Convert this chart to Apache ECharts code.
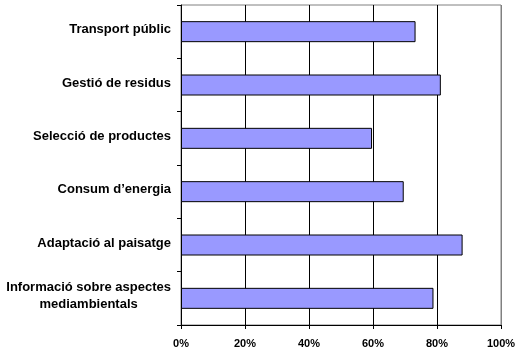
<!DOCTYPE html>
<html>
<head>
<meta charset="utf-8">
<script src="https://cdn.jsdelivr.net/npm/echarts@6/dist/echarts.min.js"></script>
<style>
html,body{margin:0;padding:0;background:#fff;}
#chart{width:530px;height:360px;}
</style>
</head>
<body>
<div id="chart"></div>
<script>
const categories = [
  'Transport públic',
  'Gestió de residus',
  'Selecció de productes',
  'Consum d\u2019energia',
  'Adaptació al paisatge',
  'Informació sobre aspectes\nmediambientals'
];
const values = [73.3, 81.2, 59.7, 69.6, 88.0, 78.9];
const xTicks = { min: 0, max: 100, interval: 20 };

const chart = echarts.init(document.getElementById('chart'));
const font = 'Liberation Sans, Arial, sans-serif';
chart.setOption({
  animation: false,
  grid: {
    left: 181, right: 29, top: 5, bottom: 35,
    show: true, borderColor: '#808080', borderWidth: 1, backgroundColor: '#fff'
  },
  xAxis: {
    type: 'value',
    min: xTicks.min, max: xTicks.max, interval: xTicks.interval,
    axisLine: { show: true, lineStyle: { color: '#000', width: 1 } },
    axisTick: { show: true, length: 4, lineStyle: { color: '#000' } },
    axisLabel: {
      formatter: '{value}%', color: '#000', fontWeight: 'bold',
      fontSize: 11, fontFamily: font, margin: 13
    },
    splitLine: { show: true, lineStyle: { color: ['#000','#000','#000','#000','#000','#808080'], width: 1 } }
  },
  yAxis: {
    type: 'category',
    inverse: true,
    data: categories,
    axisLine: { show: true, lineStyle: { color: '#000', width: 1 } },
    axisTick: { show: true, length: 4, lineStyle: { color: '#000' } },
    axisLabel: {
      color: '#000', fontWeight: 'bold', fontSize: 13, fontFamily: font, margin: 10,
      lineHeight: 17,
      padding: [0, 0, 4, 0],
      formatter: function (v) {
        return v.split('\n').map(function (s) { return '{c|' + s + '}'; }).join('\n');
      },
      rich: {
        c: { align: 'center', color: '#000', fontWeight: 'bold', fontSize: 13, fontFamily: font, lineHeight: 17 }
      }
    },
    splitLine: { show: false }
  },
  series: [{
    type: 'bar',
    data: values,
    barWidth: 21,
    itemStyle: { color: '#9999FF', borderColor: '#000', borderWidth: 1 }
  }]
});
</script>
</body>
</html>
